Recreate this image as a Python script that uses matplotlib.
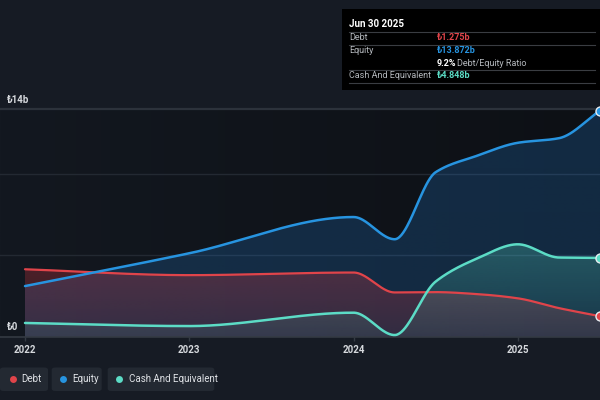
import numpy as np
import matplotlib
matplotlib.use("Agg")
import matplotlib.pyplot as plt
from matplotlib.patches import FancyBboxPatch, Rectangle
from matplotlib.lines import Line2D

plt.rcParams['font.family'] = ['Roboto', 'DejaVu Sans']

# ---- data (billions of TRY) ----
dates = [2022.0, 2023.0, 2024.0, 2024.25, 2024.5, 2024.75, 2025.0, 2025.25, 2025.5]
debt = [4.15, 3.79, 3.95, 2.73, 2.75, 2.63, 2.37, 1.77, 1.275]
equity = [3.12, 5.13, 7.35, 5.99, 10.1, 11.1, 11.9, 12.18, 13.872]
cash = [0.86, 0.67, 1.49, 0.12, 3.4, 4.8, 5.68, 4.87, 4.848]
year_ticks = [2022, 2023, 2024, 2025]
year_labels = ["2022", "2023", "2024", "2025"]
y_labels = ["₺0", "₺14b"]
series_names = ["Debt", "Equity", "Cash And Equivalent"]

C_DEBT = "#e0444a"
C_EQ = "#2794e0"
C_CASH = "#5cdcc6"


def pchip(x, y, xs):
    x = np.asarray(x, float); y = np.asarray(y, float)
    h = np.diff(x); delta = np.diff(y) / h
    n = len(x); d = np.zeros(n)
    for k in range(1, n - 1):
        if delta[k - 1] * delta[k] <= 0:
            d[k] = 0.0
        else:
            w1 = 2 * h[k] + h[k - 1]; w2 = h[k] + 2 * h[k - 1]
            d[k] = (w1 + w2) / (w1 / delta[k - 1] + w2 / delta[k])
    d[0] = delta[0]; d[-1] = delta[-1]
    idx = np.clip(np.searchsorted(x, xs) - 1, 0, n - 2)
    t = (xs - x[idx]) / h[idx]
    h00 = 2 * t**3 - 3 * t**2 + 1; h10 = t**3 - 2 * t**2 + t
    h01 = -2 * t**3 + 3 * t**2; h11 = t**3 - t**2
    return h00 * y[idx] + h10 * h[idx] * d[idx] + h01 * y[idx + 1] + h11 * h[idx] * d[idx + 1]


fig = plt.figure(figsize=(6, 4), dpi=100, facecolor="#161b24")
ax = fig.add_axes([0, 63 / 400, 1, (337 - 108.5) / 400])
ax.set_facecolor("#131820")
x0 = 2022 - 25 / (575 / 3.5)
x1 = 2025.5
ax.set_xlim(x0, x1); ax.set_ylim(0, 14)

# background gradient
bg = np.zeros((1, 256, 3))
left = np.array([19, 24, 32]) / 255; right = np.array([13, 16, 21]) / 255
for i in range(3):
    bg[0, :, i] = np.linspace(left[i], right[i], 256)
ax.imshow(bg, extent=[x0, x1, 0, 14], aspect='auto', zorder=0, interpolation='bilinear')

# grid
for g in [5, 10]:
    ax.axhline(g, color="#232932", lw=1.0, zorder=1)
ax.axhline(14, color="#2c323b", lw=1.6, zorder=1, clip_on=False)
ax.axhline(0, color="#343a43", lw=1.2, zorder=6, clip_on=False)

xs = np.linspace(dates[0], dates[-1], 600)


def grad_fill(yv, rgb, a_top, a_bot, z):
    poly = ax.fill_between(xs, yv, 0, color='none', lw=0)
    ytop = yv.max()
    n = 256
    img = np.zeros((n, 1, 4))
    img[..., 0] = rgb[0] / 255; img[..., 1] = rgb[1] / 255; img[..., 2] = rgb[2] / 255
    img[:, 0, 3] = np.linspace(a_bot, a_top, n)
    im = ax.imshow(img, extent=[xs[0], xs[-1], 0, ytop], origin='lower', aspect='auto',
                   zorder=z, interpolation='bilinear')
    im.set_clip_path(poly.get_paths()[0], transform=ax.transData)


ye = pchip(dates, equity, xs)
yd = pchip(dates, debt, xs)
yc = pchip(dates, cash, xs)

grad_fill(ye, (35, 120, 200), 0.26, 0.24, 2)
grad_fill(yd, (225, 55, 65), 0.28, 0.15, 3)
grad_fill(yc, (92, 224, 198), 0.26, 0.08, 4)

ax.plot(xs, yd, color=C_DEBT, lw=1.6, zorder=7, solid_capstyle='round')
ax.plot(xs, ye, color=C_EQ, lw=1.8, zorder=8, solid_capstyle='round')
ax.plot(xs, yc, color=C_CASH, lw=1.8, zorder=9, solid_capstyle='round')
for vals, c in [(debt, C_DEBT), (equity, C_EQ), (cash, C_CASH)]:
    ax.plot([dates[-1]], [vals[-1]], 'o', ms=6.5, mfc=c, mec="#e8eef2", mew=1.0,
            zorder=10, clip_on=False)

for s in ax.spines.values():
    s.set_visible(False)
ax.set_yticks([])
ax.set_xticks(year_ticks)
ax.set_xticklabels(year_labels)
ax.tick_params(axis='x', length=3, width=1, color="#343a43", pad=2.5,
               labelsize=7, labelcolor="#d6d9dd")
for lab in ax.get_xticklabels():
    lab.set_fontweight('bold')

# y labels
fig.text(7 / 600, 1 - 100 / 400, y_labels[1], fontsize=7, color="#d6d9dd",
         va='center', ha='left', fontweight='bold')
fig.text(7 / 600, 1 - 327 / 400, y_labels[0], fontsize=7, color="#d6d9dd",
         va='center', ha='left', fontweight='bold')

# tooltip


def fx(px):
    return px / 600


def fy(py):
    return 1 - py / 400


fig.patches.append(Rectangle((fx(342), fy(90)), fx(600) - fx(342), fy(9) - fy(90),
                             transform=fig.transFigure, facecolor="#000000",
                             edgecolor='none', zorder=20))
fig.text(fx(349), fy(24), "Jun 30 2025", fontsize=7, color="white", fontweight='bold',
         va='center', ha='left', zorder=21)
for ly in [31.7, 45, 70, 83.3]:
    fig.add_artist(Line2D([fx(349), fx(595)], [fy(ly), fy(ly)], color="#3a3d42",
                          lw=0.8, zorder=21, transform=fig.transFigure))
rows = [("Debt", "₺1.275b", C_DEBT, 37),
        ("Equity", "₺13.872b", C_EQ, 50.5),
        ("Cash And Equivalent", "₺4.848b", C_CASH, 76)]
for lab, val, c, py in rows:
    fig.text(fx(349), fy(py), lab, fontsize=6.5, color="#b4b8bd", va='center',
             ha='left', zorder=21)
    fig.text(fx(437), fy(py), val, fontsize=6.5, color=c, va='center', ha='left',
             fontweight='bold', zorder=21)
fig.text(fx(437), fy(63), "9.2%", fontsize=6.5, color="white", va='center', ha='left',
         fontweight='bold', zorder=21)
fig.text(fx(457), fy(63), "Debt/Equity Ratio", fontsize=6.5, color="#b4b8bd",
         va='center', ha='left', zorder=21)

# legend boxes
legend = [(series_names[0], C_DEBT, 0, 48, 12.7, 21.7),
          (series_names[1], C_EQ, 51.7, 101.7, 63.3, 72.7),
          (series_names[2], C_CASH, 107.7, 214.3, 119.3, 129)]
for name, c, bx0, bx1, dx, tx in legend:
    fig.patches.append(FancyBboxPatch((fx(bx0), fy(391)), fx(bx1) - fx(bx0), fy(367.5) - fy(391),
                                      boxstyle="round,pad=0,rounding_size=0.006",
                                      transform=fig.transFigure, facecolor="#232932",
                                      edgecolor='none', zorder=20))
    fig.add_artist(Line2D([fx(dx)], [fy(378.5)], marker='o', ms=5, color=c,
                          mec='none', lw=0, transform=fig.transFigure, zorder=21))
    fig.text(fx(tx), fy(378.5), name, fontsize=7, color="#dfe2e6", va='center',
             ha='left', zorder=21)

fig.savefig("out.png", dpi=100, facecolor=fig.get_facecolor())
